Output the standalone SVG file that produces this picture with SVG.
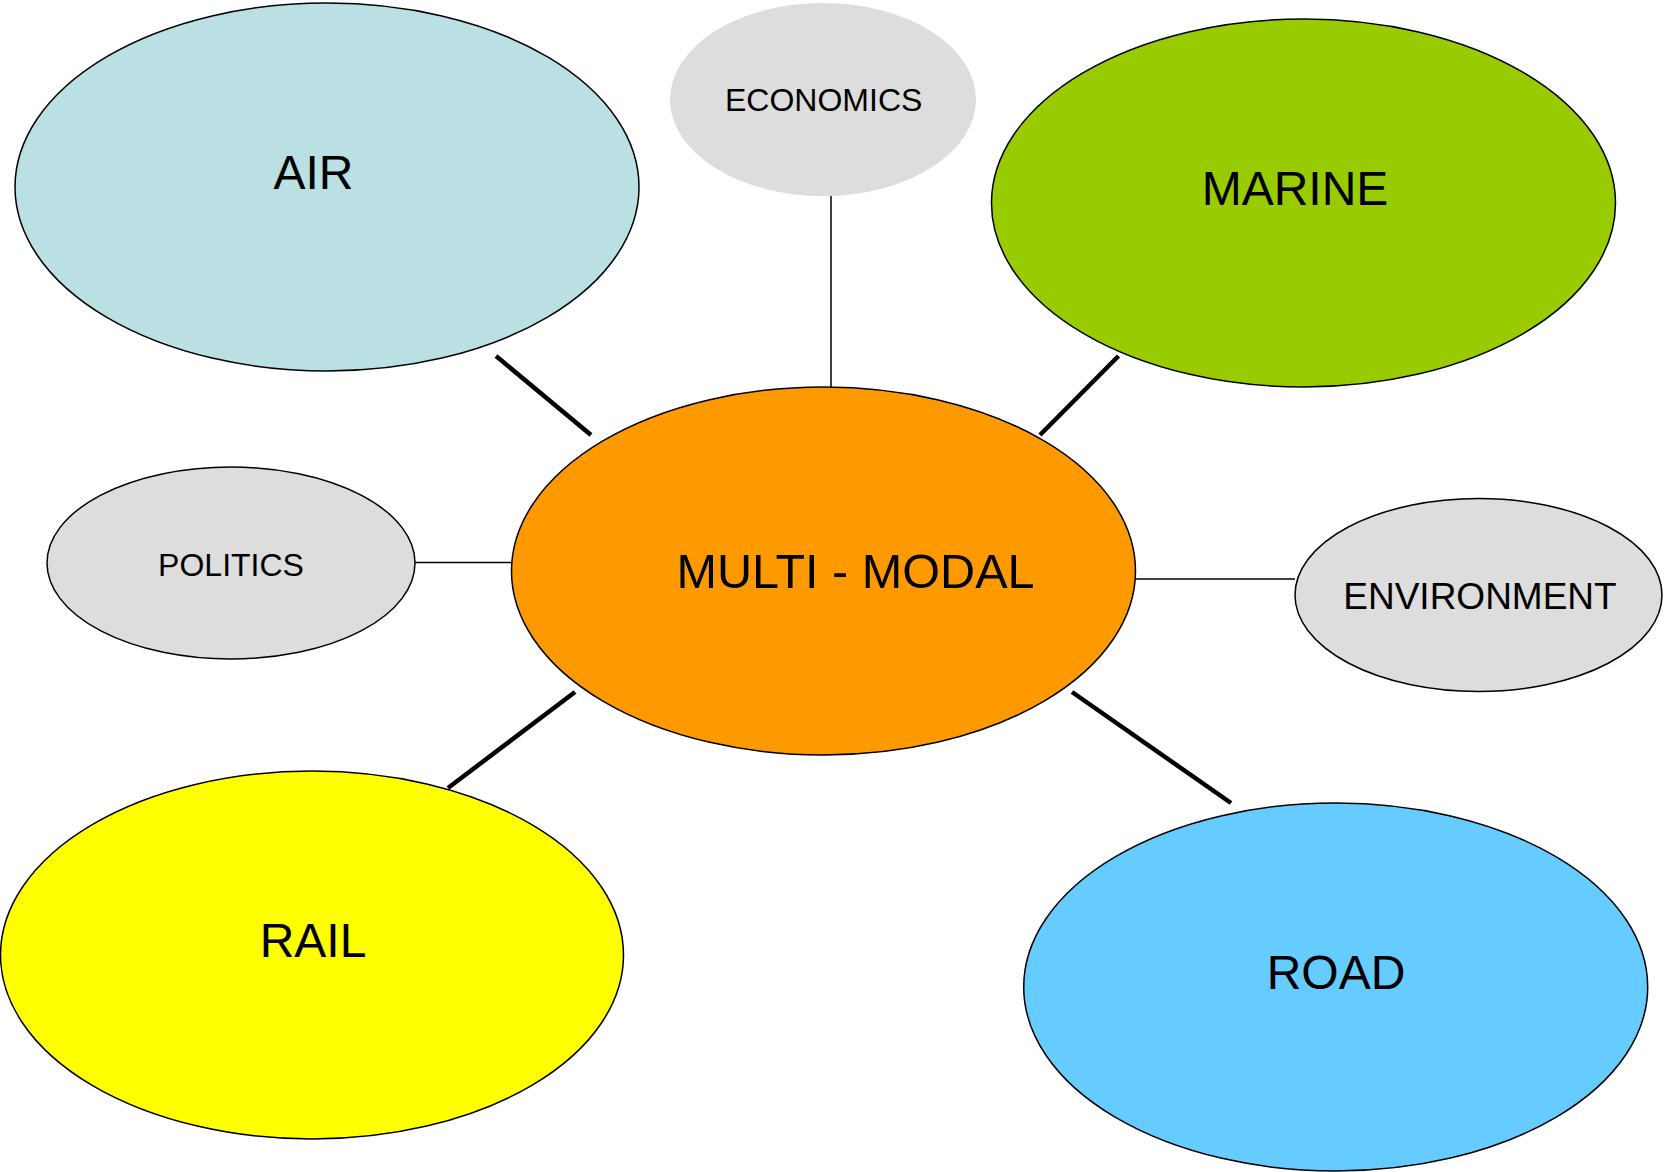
<svg xmlns="http://www.w3.org/2000/svg" width="1664" height="1172" viewBox="0 0 1664 1172">
<style>
.node ellipse{stroke:#000;stroke-width:1.5}
text{font-family:"Liberation Sans",Arial,sans-serif;fill:#000;text-anchor:middle}
.big{font-size:48px}
.small{font-size:32px}
.thick{stroke:#000;stroke-width:4.5;stroke-linecap:butt}
.thin{stroke:#000;stroke-width:1.5}
</style>
<rect width="1664" height="1172" fill="#fff"/>
<g id="connectors">
<line class="thick" x1="496" y1="356" x2="591" y2="435"/>
<line class="thick" x1="1118.5" y1="356" x2="1040" y2="435"/>
<line class="thick" x1="575" y1="692" x2="448" y2="788"/>
<line class="thick" x1="1072" y1="692" x2="1231" y2="803"/>
<line class="thin" x1="831" y1="196" x2="831" y2="387"/>
<line class="thin" x1="415" y1="562.5" x2="512" y2="562.5"/>
<line class="thin" x1="1135" y1="579" x2="1295" y2="579"/>
</g>
<g id="air" class="node">
<ellipse cx="327" cy="187" rx="312" ry="184" fill="#BAE0E3"/>
<text class="big" x="313.5" y="188.5">AIR</text>
</g>
<g id="economics" class="node">
<ellipse cx="823" cy="99.5" rx="153" ry="96.5" fill="#DDDDDD" style="stroke:none"/>
<text class="small" x="823.7" y="110.7">ECONOMICS</text>
</g>
<g id="marine" class="node">
<ellipse cx="1303.5" cy="203" rx="312" ry="184" fill="#99CC00"/>
<text class="big" x="1295" y="204.5">MARINE</text>
</g>
<g id="politics" class="node">
<ellipse cx="231" cy="563" rx="184" ry="96" fill="#DDDDDD"/>
<text class="small" x="231" y="575.7">POLITICS</text>
</g>
<g id="multimodal" class="node">
<ellipse cx="823.5" cy="571" rx="312" ry="184" fill="#FF9900"/>
<text x="855.5" y="588" style="font-size:48.6px">MULTI - MODAL</text>
</g>
<g id="environment" class="node">
<ellipse cx="1478.5" cy="595" rx="183.5" ry="96.5" fill="#DDDDDD"/>
<text x="1480" y="608.5" style="font-size:37px">ENVIRONMENT</text>
</g>
<g id="rail" class="node">
<ellipse cx="312" cy="955" rx="311.5" ry="184" fill="#FFFF00"/>
<text class="big" x="313" y="956.5">RAIL</text>
</g>
<g id="road" class="node">
<ellipse cx="1335.7" cy="987" rx="312" ry="184" fill="#66CCFF"/>
<text class="big" x="1336" y="988.5">ROAD</text>
</g>
</svg>
